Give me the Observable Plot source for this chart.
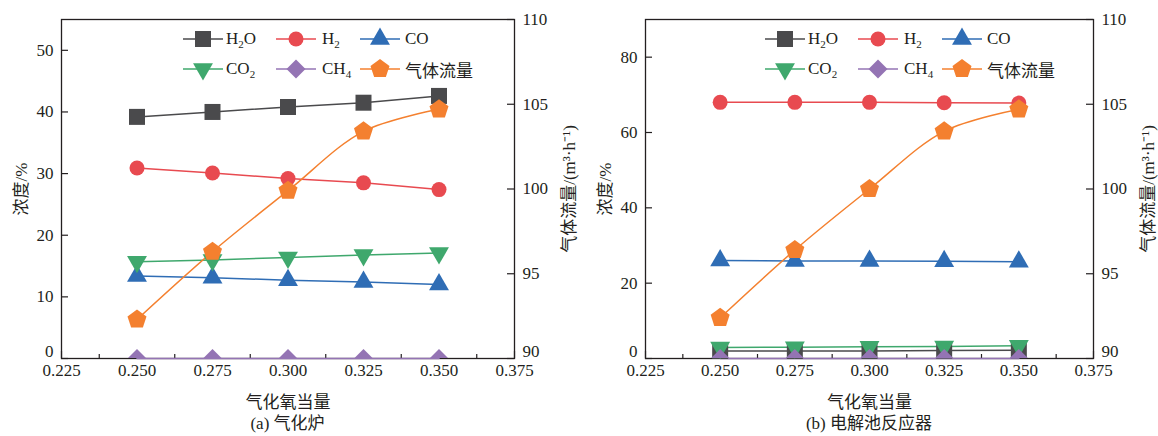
<!DOCTYPE html>
<html><head><meta charset="utf-8">
<script src="https://cdn.jsdelivr.net/npm/d3@7"></script>
<script src="https://cdn.jsdelivr.net/npm/@observablehq/plot@0.6"></script>
<style>
body{margin:0;background:#fff;}
#wrap{position:relative;width:1158px;height:436px;display:flex;font-family:"Liberation Serif","Noto Sans CJK SC",serif;color:#231f20;}
.panel{position:relative;width:579px;height:436px;}
.cap{position:absolute;top:412px;height:24px;line-height:24px;font-size:17px;white-space:nowrap;transform:translateX(-50%);}
.leg{position:absolute;font-size:17px;white-space:nowrap;}
.item{position:absolute;display:flex;align-items:center;height:24px;}
.item sub{font-size:11px;vertical-align:-4px;line-height:0;}
</style></head>
<body><div id="wrap"></div>
<script>
// ---- data ----
const xs = [0.250, 0.275, 0.300, 0.325, 0.350];
const xTicks = [0.225, 0.250, 0.275, 0.300, 0.325, 0.350, 0.375];
const xMinor = [0.2375, 0.2625, 0.2875, 0.3125, 0.3375, 0.3625];
const flowTicks = [90, 95, 100, 105, 110];

const a_yTicks = [0, 10, 20, 30, 40, 50];
const a_H2O = [39.2, 40.0, 40.8, 41.5, 42.6];
const a_H2  = [30.9, 30.1, 29.2, 28.5, 27.4];
const a_CO  = [13.4, 13.1, 12.7, 12.4, 12.0];
const a_CO2 = [15.7, 16.0, 16.4, 16.8, 17.1];
const a_CH4 = [0, 0, 0, 0, 0];
const a_flow = [92.3, 96.3, 99.9, 103.4, 104.7];

const b_yTicks = [0, 20, 40, 60, 80];
const b_H2O = [2.0, 2.0, 2.0, 2.1, 2.2];
const b_H2  = [68.0, 68.0, 68.0, 67.9, 67.8];
const b_CO  = [26.0, 25.9, 25.9, 25.8, 25.7];
const b_CO2 = [2.9, 3.0, 3.1, 3.2, 3.4];
const b_CH4 = [0, 0, 0, 0, 0];
const b_flow = [92.4, 96.4, 100.0, 103.4, 104.7];

const seriesNames = ["H<sub>2</sub>O", "H<sub>2</sub>", "CO", "CO<sub>2</sub>", "CH<sub>4</sub>", "气体流量"];
const colors = ["#4a4a4c", "#e84a50", "#2f6db5", "#3fa86d", "#9474b4", "#f4802f"];

// ---- symbols ----
function poly(ctx, R, n, start){
  for (let i = 0; i < n; i++){
    const a = start + i * 2 * Math.PI / n;
    const x = R * Math.cos(a), y = R * Math.sin(a);
    i ? ctx.lineTo(x, y) : ctx.moveTo(x, y);
  }
  ctx.closePath();
}
const rad = s => Math.sqrt(s / Math.PI);
const symSquare = {draw(c, s){ const R = rad(s); c.rect(-R, -R, 2*R, 2*R); }};
const symCircle = {draw(c, s){ const R = rad(s); c.moveTo(R, 0); c.arc(0, 0, R, 0, 2*Math.PI); }};
const symTriUp = {draw(c, s){ poly(c, rad(s), 3, -Math.PI/2); }};
const symTriDown = {draw(c, s){ poly(c, rad(s), 3, Math.PI/2); }};
const symDiamond = {draw(c, s){ poly(c, rad(s), 4, -Math.PI/2); }};
const symPent = {draw(c, s){ poly(c, rad(s), 5, -Math.PI/2); }};
const symbols = [symSquare, symCircle, symTriUp, symTriDown, symDiamond, symPent];
const radii = [8, 7.5, 11.5, 11.5, 9.5, 10];

const FONT = '"Liberation Serif","Noto Sans CJK SC",serif';

function makePanel({ml, mr, ymax, yTicks, vals, flow, caption, legLeft}){
  const W = 579, H = 412, mt = 19, mb = 54;
  const fw = W - ml - mr, fh = H - mt - mb;
  const toL = v => (v - 90) / 20 * ymax;
  const rows = arr => xs.map((x, i) => ({x, v: arr[i]}));
  const marks = [];
  marks.push(Plot.frame({stroke: "#231f20", strokeWidth: 1.3}));
  // inward ticks
  marks.push(Plot.tickX(xTicks, {x: d => d, insetTop: fh - 7, stroke: "#231f20", strokeWidth: 1.2}));
  marks.push(Plot.tickX(xMinor, {x: d => d, insetTop: fh - 4, stroke: "#231f20", strokeWidth: 1.2}));
  marks.push(Plot.tickY(yTicks, {y: d => d, insetRight: fw - 7, stroke: "#231f20", strokeWidth: 1.2}));
  marks.push(Plot.tickY(flowTicks.map(toL), {y: d => d, insetLeft: fw - 7, stroke: "#231f20", strokeWidth: 1.2}));
  // axes
  marks.push(Plot.axisX(xTicks, {anchor: "bottom", tickSize: 0, tickPadding: 5, tickFormat: d3.format(".3f"),
    label: "气化氧当量", labelAnchor: "center", labelArrow: "none", labelOffset: 49}));
  marks.push(Plot.axisY(yTicks.slice(1), {anchor: "left", tickSize: 0, tickPadding: 8,
    label: "浓度/%", labelAnchor: "center", labelArrow: "none", labelOffset: 47}));
  marks.push(Plot.axisY(yTicks.slice(0, 1), {anchor: "left", tickSize: 0, tickPadding: 8, dy: -7, label: null}));
  const fl = flowTicks.map(toL);
  const fmt = d => String(Math.round(d / ymax * 20 + 90));
  marks.push(Plot.axisY(fl.slice(1), {anchor: "right", tickSize: 0, tickPadding: 8, tickFormat: fmt,
    label: "气体流量/(m³·h⁻¹)", labelAnchor: "center", labelArrow: "none", labelOffset: 60}));
  marks.push(Plot.axisY(fl.slice(0, 1), {anchor: "right", tickSize: 0, tickPadding: 8, tickFormat: fmt, dy: -7, label: null}));
  const all = [...vals, flow.map(toL)];
  all.forEach((arr, k) => {
    marks.push(Plot.line(rows(arr), {x: "x", y: "v", stroke: colors[k], strokeWidth: 1.5,
      curve: k === 5 ? "catmull-rom" : "linear"}));
  });
  all.forEach((arr, k) => {
    marks.push(Plot.dot(rows(arr), {x: "x", y: "v", r: radii[k], symbol: symbols[k], fill: colors[k],
      stroke: "none", clip: k === 4 ? "frame" : undefined}));
  });
  const svg = Plot.plot({
    width: W, height: H, marginLeft: ml, marginRight: mr, marginTop: mt, marginBottom: mb,
    x: {domain: [0.225, 0.375]},
    y: {domain: [0, ymax]},
    style: {fontSize: "17px", fontFamily: FONT, color: "#231f20", background: "#fff", overflow: "visible"},
    marks
  });
  const div = document.createElement("div");
  div.className = "panel";
  div.appendChild(svg);
  const cap = document.createElement("div");
  cap.className = "cap";
  cap.style.left = (ml + fw / 2) + "px";
  cap.textContent = caption;
  div.appendChild(cap);
  // legend
  const leg = document.createElement("div");
  leg.className = "leg";
  leg.style.left = (ml + legLeft) + "px";
  leg.style.top = "27px";
  const colX = [0, 93, 177];
  const textGap = [3, 6, 5];
  seriesNames.forEach((name, k) => {
    const r = Math.floor(k / 3), c = k % 3;
    const it = document.createElement("div");
    it.className = "item";
    it.style.left = colX[c] + "px";
    it.style.top = (r * 30) + "px";
    const p = d3.path();
    symbols[k].draw(p, radii[k] * radii[k] * Math.PI);
    it.innerHTML = `<svg width="40" height="24" style="overflow:visible"><line x1="0" x2="40" y1="12" y2="12" stroke="${colors[k]}" stroke-width="1.5"/><path transform="translate(20,12)" d="${p.toString()}" fill="${colors[k]}"/></svg><span style="margin-left:${textGap[c]}px">${name}</span>`;
    leg.appendChild(it);
  });
  div.appendChild(leg);
  return div;
}

const wrap = document.getElementById("wrap");
wrap.appendChild(makePanel({ml: 61, mr: 65, ymax: 55, yTicks: a_yTicks,
  vals: [a_H2O, a_H2, a_CO, a_CO2, a_CH4], flow: a_flow, caption: "(a) 气化炉", legLeft: 122}));
wrap.appendChild(makePanel({ml: 66, mr: 65, ymax: 90, yTicks: b_yTicks,
  vals: [b_H2O, b_H2, b_CO, b_CO2, b_CH4], flow: b_flow, caption: "(b) 电解池反应器", legLeft: 120}));
</script>
</body></html>
